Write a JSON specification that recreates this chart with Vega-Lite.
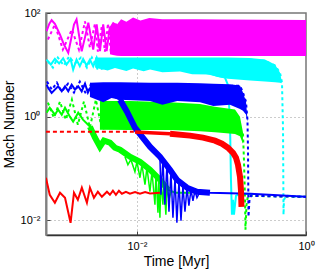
{
  "$schema": "https://vega.github.io/schema/vega-lite/v6.json",
  "width": 260,
  "height": 222,
  "autosize": {"type": "none"},
  "padding": {"left": 46, "top": 13, "right": 30, "bottom": 38},
  "background": "white",
  "config": {
    "view": {"stroke": "#777", "strokeWidth": 1.5},
    "font": "Liberation Sans",
    "axis": {"labelFont": "Liberation Sans", "titleFont": "Liberation Sans", "labelColor": "#000", "titleColor": "#000", "titleFontWeight": "normal", "titleFontSize": 14, "labelFontSize": 11, "tickColor": "#444", "tickSize": -4, "gridColor": "#999", "gridDash": [1, 3], "gridWidth": 1}
  },
  "datasets": {
    "B": [
      {"s": "mag", "t": 0.0048, "lo": 16, "hi": 55},
      {"s": "mag", "t": 0.0052, "lo": 15.5, "hi": 68},
      {"s": "mag", "t": 0.0058, "lo": 15, "hi": 60},
      {"s": "mag", "t": 0.0065, "lo": 14.8, "hi": 76},
      {"s": "mag", "t": 0.0075, "lo": 14.8, "hi": 68},
      {"s": "mag", "t": 0.009, "lo": 14.8, "hi": 82},
      {"s": "mag", "t": 0.011, "lo": 14.8, "hi": 72},
      {"s": "mag", "t": 0.014, "lo": 14.8, "hi": 80},
      {"s": "mag", "t": 0.02, "lo": 14.8, "hi": 76},
      {"s": "mag", "t": 0.05, "lo": 14.8, "hi": 76},
      {"s": "mag", "t": 0.1, "lo": 14.8, "hi": 75},
      {"s": "mag", "t": 0.3, "lo": 14.8, "hi": 74},
      {"s": "mag", "t": 1.0, "lo": 14.8, "hi": 73},
      {"s": "cyan", "t": 0.0032, "lo": 8.85, "hi": 13.8},
      {"s": "cyan", "t": 0.0045, "lo": 7.8, "hi": 13.8},
      {"s": "cyan", "t": 0.0055, "lo": 8.7, "hi": 13.8},
      {"s": "cyan", "t": 0.0075, "lo": 7.6, "hi": 13.8},
      {"s": "cyan", "t": 0.009, "lo": 8.5, "hi": 13.8},
      {"s": "cyan", "t": 0.012, "lo": 7.5, "hi": 13.8},
      {"s": "cyan", "t": 0.0143, "lo": 8.1, "hi": 13.8},
      {"s": "cyan", "t": 0.02, "lo": 7.2, "hi": 13.8},
      {"s": "cyan", "t": 0.0323, "lo": 7.4, "hi": 13.8},
      {"s": "cyan", "t": 0.045, "lo": 6.6, "hi": 13.8},
      {"s": "cyan", "t": 0.0731, "lo": 6.5, "hi": 13.8},
      {"s": "cyan", "t": 0.09, "lo": 5.8, "hi": 13.8},
      {"s": "cyan", "t": 0.119, "lo": 5.4, "hi": 13.8},
      {"s": "cyan", "t": 0.2175, "lo": 5.0, "hi": 13.6},
      {"s": "cyan", "t": 0.327, "lo": 4.75, "hi": 12.6},
      {"s": "cyan", "t": 0.43, "lo": 4.6, "hi": 10.1},
      {"s": "cyan", "t": 0.492, "lo": 4.5, "hi": 7.1},
      {"s": "cyan", "t": 0.515, "lo": 4.4, "hi": 5.0},
      {"s": "blue", "t": 0.00278, "lo": 2.4, "hi": 4.5},
      {"s": "blue", "t": 0.004, "lo": 1.9, "hi": 4.6},
      {"s": "blue", "t": 0.005, "lo": 2.3, "hi": 4.6},
      {"s": "blue", "t": 0.0063, "lo": 2.13, "hi": 4.6},
      {"s": "blue", "t": 0.0143, "lo": 2.0, "hi": 4.5},
      {"s": "blue", "t": 0.02, "lo": 1.7, "hi": 4.5},
      {"s": "blue", "t": 0.03, "lo": 2.0, "hi": 4.5},
      {"s": "blue", "t": 0.0557, "lo": 1.9, "hi": 4.4},
      {"s": "blue", "t": 0.08, "lo": 1.6, "hi": 4.3},
      {"s": "blue", "t": 0.126, "lo": 1.7, "hi": 4.2},
      {"s": "blue", "t": 0.1656, "lo": 1.4, "hi": 3.97},
      {"s": "blue", "t": 0.1796, "lo": 1.3, "hi": 2.91},
      {"s": "blue", "t": 0.195, "lo": 1.1, "hi": 1.95},
      {"s": "blue", "t": 0.203, "lo": 0.8, "hi": 0.9},
      {"s": "green", "t": 0.00365, "lo": 0.56, "hi": 2.0},
      {"s": "green", "t": 0.00826, "lo": 0.55, "hi": 2.0},
      {"s": "green", "t": 0.0246, "lo": 0.55, "hi": 1.9},
      {"s": "green", "t": 0.0557, "lo": 0.52, "hi": 1.75},
      {"s": "green", "t": 0.0838, "lo": 0.5, "hi": 1.56},
      {"s": "green", "t": 0.1445, "lo": 0.46, "hi": 1.37},
      {"s": "green", "t": 0.1656, "lo": 0.42, "hi": 1.0},
      {"s": "green", "t": 0.1796, "lo": 0.3, "hi": 0.5}
    ],
    "L": [
      {"s": "mag_s", "t": 0.000853, "m": 44.5}, {"s": "mag_s", "t": 0.00092, "m": 62}, {"s": "mag_s", "t": 0.00098, "m": 72.6}, {"s": "mag_s", "t": 0.00107, "m": 62}, {"s": "mag_s", "t": 0.00123, "m": 38.4}, {"s": "mag_s", "t": 0.00137, "m": 24.6}, {"s": "mag_s", "t": 0.00154, "m": 17.0}, {"s": "mag_s", "t": 0.00166, "m": 30.8}, {"s": "mag_s", "t": 0.0018, "m": 60}, {"s": "mag_s", "t": 0.00193, "m": 74.9}, {"s": "mag_s", "t": 0.00206, "m": 38.4}, {"s": "mag_s", "t": 0.00222, "m": 18.3}, {"s": "mag_s", "t": 0.00244, "m": 35}, {"s": "mag_s", "t": 0.00266, "m": 64.7}, {"s": "mag_s", "t": 0.00304, "m": 19.7}, {"s": "mag_s", "t": 0.00334, "m": 60}, {"s": "mag_s", "t": 0.00365, "m": 18.3}, {"s": "mag_s", "t": 0.00399, "m": 60}, {"s": "mag_s", "t": 0.00438, "m": 18.3}, {"s": "mag_s", "t": 0.00479, "m": 54.8}, {"s": "mag_s", "t": 0.0052, "m": 18.0}, {"s": "mag_s", "t": 0.00564, "m": 62.7}, {"s": "mag_s", "t": 0.006, "m": 17},
      {"s": "mag_d", "t": 0.000885, "m": 30.8}, {"s": "mag_d", "t": 0.00107, "m": 60}, {"s": "mag_d", "t": 0.00133, "m": 19.7}, {"s": "mag_d", "t": 0.0017, "m": 48}, {"s": "mag_d", "t": 0.00206, "m": 19.7}, {"s": "mag_d", "t": 0.00243, "m": 68.5}, {"s": "mag_d", "t": 0.00278, "m": 21.5}, {"s": "mag_d", "t": 0.00319, "m": 62.7}, {"s": "mag_d", "t": 0.00345, "m": 18}, {"s": "mag_d", "t": 0.00385, "m": 57}, {"s": "mag_d", "t": 0.00418, "m": 18}, {"s": "mag_d", "t": 0.00454, "m": 62.7}, {"s": "mag_d", "t": 0.00492, "m": 17.3}, {"s": "mag_d", "t": 0.00534, "m": 68.5},
      {"s": "cyan_s", "t": 0.000853, "m": 12.6}, {"s": "cyan_s", "t": 0.000959, "m": 10.1}, {"s": "cyan_s", "t": 0.00107, "m": 13.0}, {"s": "cyan_s", "t": 0.0012, "m": 10.6}, {"s": "cyan_s", "t": 0.00134, "m": 13.4}, {"s": "cyan_s", "t": 0.00147, "m": 10.1}, {"s": "cyan_s", "t": 0.00164, "m": 13.0}, {"s": "cyan_s", "t": 0.00176, "m": 8.09}, {"s": "cyan_s", "t": 0.00193, "m": 12.6}, {"s": "cyan_s", "t": 0.00211, "m": 9.38}, {"s": "cyan_s", "t": 0.00231, "m": 13.0}, {"s": "cyan_s", "t": 0.00254, "m": 9.67}, {"s": "cyan_s", "t": 0.00278, "m": 12.6}, {"s": "cyan_s", "t": 0.00304, "m": 9.38}, {"s": "cyan_s", "t": 0.00334, "m": 13.8}, {"s": "cyan_s", "t": 0.00365, "m": 8.85}, {"s": "cyan_s", "t": 0.0063, "m": 11.6}, {"s": "cyan_s", "t": 0.0187, "m": 9.67}, {"s": "cyan_s", "t": 0.0557, "m": 7.41}, {"s": "cyan_s", "t": 0.11, "m": 5.67}, {"s": "cyan_s", "t": 0.119, "m": 4.15}, {"s": "cyan_s", "t": 0.126, "m": 0.875}, {"s": "cyan_s", "t": 0.1295, "m": 0.0606}, {"s": "cyan_s", "t": 0.133, "m": 0.0128}, {"s": "cyan_s", "t": 0.137, "m": 0.0249}, {"s": "cyan_s", "t": 0.1406, "m": 0.0128}, {"s": "cyan_s", "t": 0.1485, "m": 0.0297}, {"s": "cyan_s", "t": 0.1656, "m": 0.0325}, {"s": "cyan_s", "t": 0.25, "m": 0.032},
      {"s": "cyan_d", "t": 0.000885, "m": 11.6}, {"s": "cyan_d", "t": 0.001014, "m": 8.85}, {"s": "cyan_d", "t": 0.00116, "m": 13.8}, {"s": "cyan_d", "t": 0.00137, "m": 9.67}, {"s": "cyan_d", "t": 0.00157, "m": 14.4}, {"s": "cyan_d", "t": 0.00185, "m": 10.6}, {"s": "cyan_d", "t": 0.00217, "m": 13.8}, {"s": "cyan_d", "t": 0.00256, "m": 8.85}, {"s": "cyan_d", "t": 0.00293, "m": 13.8}, {"s": "cyan_d", "t": 0.00345, "m": 8.09}, {"s": "cyan_d", "t": 0.01, "m": 12}, {"s": "cyan_d", "t": 0.1, "m": 11}, {"s": "cyan_d", "t": 0.2175, "m": 12.6}, {"s": "cyan_d", "t": 0.327, "m": 12.0}, {"s": "cyan_d", "t": 0.43, "m": 9.67}, {"s": "cyan_d", "t": 0.492, "m": 7.07}, {"s": "cyan_d", "t": 0.52, "m": 4.54}, {"s": "cyan_d", "t": 0.535, "m": 0.561}, {"s": "cyan_d", "t": 0.542, "m": 0.0128}, {"s": "cyan_d", "t": 0.549, "m": 0.0249}, {"s": "cyan_d", "t": 0.58, "m": 0.0297}, {"s": "cyan_d", "t": 0.7, "m": 0.029}, {"s": "cyan_d", "t": 1.0, "m": 0.0284},
      {"s": "green_s", "t": 0.000853, "m": 1.19}, {"s": "green_s", "t": 0.00093, "m": 1.49}, {"s": "green_s", "t": 0.00107, "m": 1.09}, {"s": "green_s", "t": 0.00117, "m": 1.37}, {"s": "green_s", "t": 0.00129, "m": 1.09}, {"s": "green_s", "t": 0.00141, "m": 1.49}, {"s": "green_s", "t": 0.00161, "m": 1.0}, {"s": "green_s", "t": 0.00176, "m": 0.8}, {"s": "green_s", "t": 0.00202, "m": 1.19}, {"s": "green_s", "t": 0.0023, "m": 0.875}, {"s": "green_s", "t": 0.00278, "m": 0.641}, {"s": "green_s", "t": 0.00319, "m": 0.393}, {"s": "green_s", "t": 0.00365, "m": 0.263}, {"s": "green_s", "t": 0.00407, "m": 0.344}, {"s": "green_s", "t": 0.00479, "m": 0.315}, {"s": "green_s", "t": 0.00549, "m": 0.252}, {"s": "green_s", "t": 0.0063, "m": 0.23}, {"s": "green_s", "t": 0.00826, "m": 0.169}, {"s": "green_s", "t": 0.01086, "m": 0.135}, {"s": "green_s", "t": 0.01426, "m": 0.0946}, {"s": "green_s", "t": 0.0187, "m": 0.0606}, {"s": "green_s", "t": 0.0233, "m": 0.0388}, {"s": "green_s", "t": 0.0282, "m": 0.034}, {"s": "green_s", "t": 0.0424, "m": 0.034},
      {"s": "green_t", "t": 0.00278, "m": 0.641}, {"s": "green_t", "t": 0.00319, "m": 0.393}, {"s": "green_t", "t": 0.00365, "m": 0.263}, {"s": "green_t", "t": 0.00407, "m": 0.344}, {"s": "green_t", "t": 0.00479, "m": 0.315}, {"s": "green_t", "t": 0.00549, "m": 0.252}, {"s": "green_t", "t": 0.0063, "m": 0.23}, {"s": "green_t", "t": 0.00826, "m": 0.169}, {"s": "green_t", "t": 0.01086, "m": 0.135}, {"s": "green_t", "t": 0.01426, "m": 0.0946}, {"s": "green_t", "t": 0.0187, "m": 0.0606}, {"s": "green_t", "t": 0.0233, "m": 0.0388},
      {"s": "green_k", "t": 0.00722, "m": 0.169}, {"s": "green_k", "t": 0.00782, "m": 0.118}, {"s": "green_k", "t": 0.00849, "m": 0.148}, {"s": "green_k", "t": 0.00947, "m": 0.0865}, {"s": "green_k", "t": 0.01, "m": 0.135}, {"s": "green_k", "t": 0.01086, "m": 0.0662}, {"s": "green_k", "t": 0.01146, "m": 0.118}, {"s": "green_k", "t": 0.01245, "m": 0.0485}, {"s": "green_k", "t": 0.01313, "m": 0.1034}, {"s": "green_k", "t": 0.01426, "m": 0.0355}, {"s": "green_k", "t": 0.01506, "m": 0.0865}, {"s": "green_k", "t": 0.01634, "m": 0.0199}, {"s": "green_k", "t": 0.0168, "m": 0.0792}, {"s": "green_k", "t": 0.01774, "m": 0.014}, {"s": "green_k", "t": 0.0182, "m": 0.0662}, {"s": "green_k", "t": 0.0187, "m": 0.01117}, {"s": "green_k", "t": 0.01923, "m": 0.0606}, {"s": "green_k", "t": 0.0203, "m": 0.0199}, {"s": "green_k", "t": 0.0209, "m": 0.0531}, {"s": "green_k", "t": 0.022, "m": 0.0128}, {"s": "green_k", "t": 0.02265, "m": 0.0444}, {"s": "green_k", "t": 0.02393, "m": 0.0249}, {"s": "green_k", "t": 0.02524, "m": 0.0355},
      {"s": "green_d", "t": 0.000885, "m": 1.86}, {"s": "green_d", "t": 0.00104, "m": 0.957}, {"s": "green_d", "t": 0.00123, "m": 1.95}, {"s": "green_d", "t": 0.00144, "m": 0.875}, {"s": "green_d", "t": 0.0017, "m": 2.13}, {"s": "green_d", "t": 0.002, "m": 0.7}, {"s": "green_d", "t": 0.00236, "m": 1.95}, {"s": "green_d", "t": 0.00278, "m": 0.613}, {"s": "green_d", "t": 0.00327, "m": 2.13}, {"s": "green_d", "t": 0.00385, "m": 0.561}, {"s": "green_d", "t": 0.01, "m": 1.5}, {"s": "green_d", "t": 0.1796, "m": 0.491}, {"s": "green_d", "t": 0.1845, "m": 0.148}, {"s": "green_d", "t": 0.19, "m": 0.0249}, {"s": "green_d", "t": 0.1923, "m": 0.00655}, {"s": "green_d", "t": 0.1978, "m": 0.0199}, {"s": "green_d", "t": 0.206, "m": 0.0297}, {"s": "green_d", "t": 0.4, "m": 0.029}, {"s": "green_d", "t": 1.0, "m": 0.0284},
      {"s": "blue_s", "t": 0.000853, "m": 4.15}, {"s": "blue_s", "t": 0.000891, "m": 3.59}, {"s": "blue_s", "t": 0.00098, "m": 2.87}, {"s": "blue_s", "t": 0.00107, "m": 3.32}, {"s": "blue_s", "t": 0.00117, "m": 3.85}, {"s": "blue_s", "t": 0.00129, "m": 3.08}, {"s": "blue_s", "t": 0.00141, "m": 3.85}, {"s": "blue_s", "t": 0.00154, "m": 3.08}, {"s": "blue_s", "t": 0.00169, "m": 4.15}, {"s": "blue_s", "t": 0.00185, "m": 3.32}, {"s": "blue_s", "t": 0.00202, "m": 3.85}, {"s": "blue_s", "t": 0.00222, "m": 3.08}, {"s": "blue_s", "t": 0.00243, "m": 4.34}, {"s": "blue_s", "t": 0.00263, "m": 2.91}, {"s": "blue_s", "t": 0.00293, "m": 4.15}, {"s": "blue_s", "t": 0.00365, "m": 3.32}, {"s": "blue_s", "t": 0.00479, "m": 2.66}, {"s": "blue_s", "t": 0.0063, "m": 2.13}, {"s": "blue_s", "t": 0.00762, "m": 1.25}, {"s": "blue_s", "t": 0.00826, "m": 0.957}, {"s": "blue_s", "t": 0.00947, "m": 0.613}, {"s": "blue_s", "t": 0.01146, "m": 0.411}, {"s": "blue_s", "t": 0.01426, "m": 0.263}, {"s": "blue_s", "t": 0.0187, "m": 0.169}, {"s": "blue_s", "t": 0.0246, "m": 0.0946}, {"s": "blue_s", "t": 0.0297, "m": 0.0606}, {"s": "blue_s", "t": 0.0391, "m": 0.0425}, {"s": "blue_s", "t": 0.0513, "m": 0.0355}, {"s": "blue_s", "t": 0.0731, "m": 0.034}, {"s": "blue_s", "t": 0.2175, "m": 0.0325}, {"s": "blue_s", "t": 1.0, "m": 0.0284},
      {"s": "blue_t", "t": 0.0063, "m": 2.13}, {"s": "blue_t", "t": 0.00762, "m": 1.25}, {"s": "blue_t", "t": 0.00826, "m": 0.957}, {"s": "blue_t", "t": 0.00947, "m": 0.613}, {"s": "blue_t", "t": 0.01146, "m": 0.411}, {"s": "blue_t", "t": 0.01426, "m": 0.263}, {"s": "blue_t", "t": 0.0187, "m": 0.169}, {"s": "blue_t", "t": 0.0246, "m": 0.0946}, {"s": "blue_t", "t": 0.0297, "m": 0.0606}, {"s": "blue_t", "t": 0.0391, "m": 0.0425}, {"s": "blue_t", "t": 0.0513, "m": 0.0355}, {"s": "blue_t", "t": 0.0731, "m": 0.034},
      {"s": "blue_k", "t": 0.0187, "m": 0.169}, {"s": "blue_k", "t": 0.01923, "m": 0.0311}, {"s": "blue_k", "t": 0.0203, "m": 0.148}, {"s": "blue_k", "t": 0.0214, "m": 0.0199}, {"s": "blue_k", "t": 0.02265, "m": 0.118}, {"s": "blue_k", "t": 0.02393, "m": 0.0146}, {"s": "blue_k", "t": 0.02524, "m": 0.0865}, {"s": "blue_k", "t": 0.02667, "m": 0.01117}, {"s": "blue_k", "t": 0.0282, "m": 0.0662}, {"s": "blue_k", "t": 0.0297, "m": 0.00895}, {"s": "blue_k", "t": 0.03141, "m": 0.0555}, {"s": "blue_k", "t": 0.0332, "m": 0.00978}, {"s": "blue_k", "t": 0.035, "m": 0.0464}, {"s": "blue_k", "t": 0.037, "m": 0.0146}, {"s": "blue_k", "t": 0.0391, "m": 0.0425}, {"s": "blue_k", "t": 0.0412, "m": 0.0191}, {"s": "blue_k", "t": 0.0436, "m": 0.0388}, {"s": "blue_k", "t": 0.046, "m": 0.0238}, {"s": "blue_k", "t": 0.0486, "m": 0.0372}, {"s": "blue_k", "t": 0.0513, "m": 0.0272}, {"s": "blue_k", "t": 0.0557, "m": 0.0355},
      {"s": "blue_d", "t": 0.000861, "m": 4.75}, {"s": "blue_d", "t": 0.000987, "m": 3.32}, {"s": "blue_d", "t": 0.00113, "m": 4.54}, {"s": "blue_d", "t": 0.00129, "m": 3.04}, {"s": "blue_d", "t": 0.00153, "m": 4.34}, {"s": "blue_d", "t": 0.0018, "m": 2.91}, {"s": "blue_d", "t": 0.00211, "m": 4.75}, {"s": "blue_d", "t": 0.00249, "m": 2.78}, {"s": "blue_d", "t": 0.00293, "m": 4.54}, {"s": "blue_d", "t": 0.00345, "m": 2.66}, {"s": "blue_d", "t": 0.01, "m": 3.5}, {"s": "blue_d", "t": 0.1656, "m": 3.97}, {"s": "blue_d", "t": 0.1796, "m": 2.91}, {"s": "blue_d", "t": 0.195, "m": 1.95}, {"s": "blue_d", "t": 0.203, "m": 0.875}, {"s": "blue_d", "t": 0.206, "m": 0.23}, {"s": "blue_d", "t": 0.2088, "m": 0.0117}, {"s": "blue_d", "t": 0.2145, "m": 0.0249}, {"s": "blue_d", "t": 0.2235, "m": 0.0297}, {"s": "blue_d", "t": 0.4, "m": 0.029}, {"s": "blue_d", "t": 1.0, "m": 0.0284},
      {"s": "red_s", "t": 0.000838, "m": 0.0662}, {"s": "red_s", "t": 0.00093, "m": 0.0311}, {"s": "red_s", "t": 0.00107, "m": 0.0218}, {"s": "red_s", "t": 0.00123, "m": 0.034}, {"s": "red_s", "t": 0.00141, "m": 0.0272}, {"s": "red_s", "t": 0.00164, "m": 0.00895}, {"s": "red_s", "t": 0.0018, "m": 0.034}, {"s": "red_s", "t": 0.002, "m": 0.0249}, {"s": "red_s", "t": 0.00223, "m": 0.0425}, {"s": "red_s", "t": 0.00256, "m": 0.0218}, {"s": "red_s", "t": 0.00278, "m": 0.0425}, {"s": "red_s", "t": 0.0031, "m": 0.0272}, {"s": "red_s", "t": 0.00345, "m": 0.0355}, {"s": "red_s", "t": 0.00385, "m": 0.0284}, {"s": "red_s", "t": 0.00442, "m": 0.0355}, {"s": "red_s", "t": 0.00479, "m": 0.0311}, {"s": "red_s", "t": 0.0052, "m": 0.0372}, {"s": "red_s", "t": 0.00564, "m": 0.0311}, {"s": "red_s", "t": 0.00612, "m": 0.0372}, {"s": "red_s", "t": 0.00664, "m": 0.0325}, {"s": "red_s", "t": 0.00741, "m": 0.0355}, {"s": "red_s", "t": 0.00826, "m": 0.0325}, {"s": "red_s", "t": 0.0095, "m": 0.035}, {"s": "red_s", "t": 0.01086, "m": 0.0325}, {"s": "red_s", "t": 0.0125, "m": 0.035}, {"s": "red_s", "t": 0.01426, "m": 0.033}, {"s": "red_s", "t": 0.0187, "m": 0.034},
      {"s": "red_d", "t": 0.000838, "m": 0.513}, {"s": "red_d", "t": 0.00826, "m": 0.513}, {"s": "red_d", "t": 0.01426, "m": 0.491},
      {"s": "red_m", "t": 0.0095, "m": 0.507}, {"s": "red_m", "t": 0.01426, "m": 0.491}, {"s": "red_m", "t": 0.0246, "m": 0.469},
      {"s": "red_t", "t": 0.0246, "m": 0.469}, {"s": "red_t", "t": 0.0424, "m": 0.43}, {"s": "red_t", "t": 0.0604, "m": 0.393}, {"s": "red_t", "t": 0.0838, "m": 0.344}, {"s": "red_t", "t": 0.1014, "m": 0.301}, {"s": "red_t", "t": 0.119, "m": 0.252}, {"s": "red_t", "t": 0.137, "m": 0.201}, {"s": "red_t", "t": 0.1485, "m": 0.1614}, {"s": "red_t", "t": 0.1568, "m": 0.118}, {"s": "red_t", "t": 0.1656, "m": 0.0693}, {"s": "red_t", "t": 0.17, "m": 0.0388}, {"s": "red_t", "t": 0.1726, "m": 0.0182}
    ]
  },
  "encoding": {
    "x": {"field": "t", "type": "quantitative", "title": "Time [Myr]",
      "scale": {"type": "log", "domain": [0.00084, 1], "nice": false},
      "axis": {"values": [0.01, 1], "labelExpr": "datum.value < 0.1 ? '10⁻²' : '10⁰'", "grid": true, "domainColor": "#333", "domainWidth": 1.5, "labelPadding": 9, "titlePadding": 3, "labelFlush": false}},
    "y": {"field": "m", "type": "quantitative", "title": "Mach Number",
      "scale": {"type": "log", "domain": [0.0052, 100], "nice": false},
      "axis": {"values": [0.01, 1, 100], "labelExpr": "datum.value > 10 ? '10²' : (datum.value > 0.1 ? '10⁰' : '10⁻²')", "grid": true, "domainColor": "#808080", "domainWidth": 2, "labelPadding": 10, "titlePadding": 4, "labelFlush": false}}
  },
  "layer": [
    {"data": {"name": "B"}, "transform": [{"filter": "datum.s == 'mag'"}], "mark": {"type": "area", "color": "#ff00ff", "clip": true},
     "encoding": {"y": {"field": "hi", "type": "quantitative", "title": "Mach Number", "scale": {"type": "log", "domain": [0.0052, 100], "nice": false}, "axis": {"values": [0.01, 1, 100], "labelExpr": "datum.value > 10 ? '10²' : (datum.value > 0.1 ? '10⁰' : '10⁻²')", "grid": true, "domainColor": "#808080", "domainWidth": 2, "labelPadding": 10, "titlePadding": 4, "labelFlush": false}}, "y2": {"field": "lo"}}},
    {"data": {"name": "L"}, "transform": [{"filter": "datum.s == 'mag_s'"}], "mark": {"type": "line", "color": "#ff00ff", "strokeWidth": 2, "clip": true}},
    {"data": {"name": "L"}, "transform": [{"filter": "datum.s == 'mag_d'"}], "mark": {"type": "line", "color": "#ff00ff", "strokeWidth": 2, "strokeDash": [3, 3], "clip": true}},
    {"data": {"name": "B"}, "transform": [{"filter": "datum.s == 'cyan'"}], "mark": {"type": "area", "color": "#00ffff", "clip": true},
     "encoding": {"y": {"field": "hi", "type": "quantitative", "title": "Mach Number", "scale": {"type": "log", "domain": [0.0052, 100], "nice": false}, "axis": {"values": [0.01, 1, 100], "labelExpr": "datum.value > 10 ? '10²' : (datum.value > 0.1 ? '10⁰' : '10⁻²')", "grid": true, "domainColor": "#808080", "domainWidth": 2, "labelPadding": 10, "titlePadding": 4, "labelFlush": false}}, "y2": {"field": "lo"}}},
    {"data": {"name": "L"}, "transform": [{"filter": "datum.s == 'cyan_s'"}], "mark": {"type": "line", "color": "#00ffff", "strokeWidth": 2, "clip": true}},
    {"data": {"name": "L"}, "transform": [{"filter": "datum.s == 'cyan_d'"}], "mark": {"type": "line", "color": "#00ffff", "strokeWidth": 2, "strokeDash": [3, 3], "clip": true}},
    {"data": {"name": "B"}, "transform": [{"filter": "datum.s == 'green'"}], "mark": {"type": "area", "color": "#00ff00", "clip": true},
     "encoding": {"y": {"field": "hi", "type": "quantitative", "title": "Mach Number", "scale": {"type": "log", "domain": [0.0052, 100], "nice": false}, "axis": {"values": [0.01, 1, 100], "labelExpr": "datum.value > 10 ? '10²' : (datum.value > 0.1 ? '10⁰' : '10⁻²')", "grid": true, "domainColor": "#808080", "domainWidth": 2, "labelPadding": 10, "titlePadding": 4, "labelFlush": false}}, "y2": {"field": "lo"}}},
    {"data": {"name": "L"}, "transform": [{"filter": "datum.s == 'green_s'"}], "mark": {"type": "line", "color": "#00ff00", "strokeWidth": 2, "clip": true}},
    {"data": {"name": "L"}, "transform": [{"filter": "datum.s == 'green_t'"}], "mark": {"type": "line", "color": "#00ff00", "strokeWidth": 6, "clip": true}},
    {"data": {"name": "L"}, "transform": [{"filter": "datum.s == 'green_k'"}], "mark": {"type": "line", "color": "#00ff00", "strokeWidth": 1.5, "clip": true}},
    {"data": {"name": "L"}, "transform": [{"filter": "datum.s == 'green_d'"}], "mark": {"type": "line", "color": "#00ff00", "strokeWidth": 2, "strokeDash": [3, 3], "clip": true}},
    {"data": {"name": "B"}, "transform": [{"filter": "datum.s == 'blue'"}], "mark": {"type": "area", "color": "#0000ff", "clip": true},
     "encoding": {"y": {"field": "hi", "type": "quantitative", "title": "Mach Number", "scale": {"type": "log", "domain": [0.0052, 100], "nice": false}, "axis": {"values": [0.01, 1, 100], "labelExpr": "datum.value > 10 ? '10²' : (datum.value > 0.1 ? '10⁰' : '10⁻²')", "grid": true, "domainColor": "#808080", "domainWidth": 2, "labelPadding": 10, "titlePadding": 4, "labelFlush": false}}, "y2": {"field": "lo"}}},
    {"data": {"name": "L"}, "transform": [{"filter": "datum.s == 'blue_s'"}], "mark": {"type": "line", "color": "#0000ff", "strokeWidth": 2, "clip": true}},
    {"data": {"name": "L"}, "transform": [{"filter": "datum.s == 'blue_t'"}], "mark": {"type": "line", "color": "#0000ff", "strokeWidth": 6, "clip": true}},
    {"data": {"name": "L"}, "transform": [{"filter": "datum.s == 'blue_k'"}], "mark": {"type": "line", "color": "#0000ff", "strokeWidth": 1.5, "clip": true}},
    {"data": {"name": "L"}, "transform": [{"filter": "datum.s == 'blue_d'"}], "mark": {"type": "line", "color": "#0000ff", "strokeWidth": 2, "strokeDash": [3, 3], "clip": true}},
    {"data": {"name": "L"}, "transform": [{"filter": "datum.s == 'red_s'"}], "mark": {"type": "line", "color": "#ff0000", "strokeWidth": 2, "clip": true}},
    {"data": {"name": "L"}, "transform": [{"filter": "datum.s == 'red_d'"}], "mark": {"type": "line", "color": "#ff0000", "strokeWidth": 2, "strokeDash": [4, 3], "clip": true}},
    {"data": {"name": "L"}, "transform": [{"filter": "datum.s == 'red_m'"}], "mark": {"type": "line", "color": "#ff0000", "strokeWidth": 3.5, "clip": true}},
    {"data": {"name": "L"}, "transform": [{"filter": "datum.s == 'red_t'"}], "mark": {"type": "line", "color": "#ff0000", "strokeWidth": 6, "clip": true}}
  ]
}
